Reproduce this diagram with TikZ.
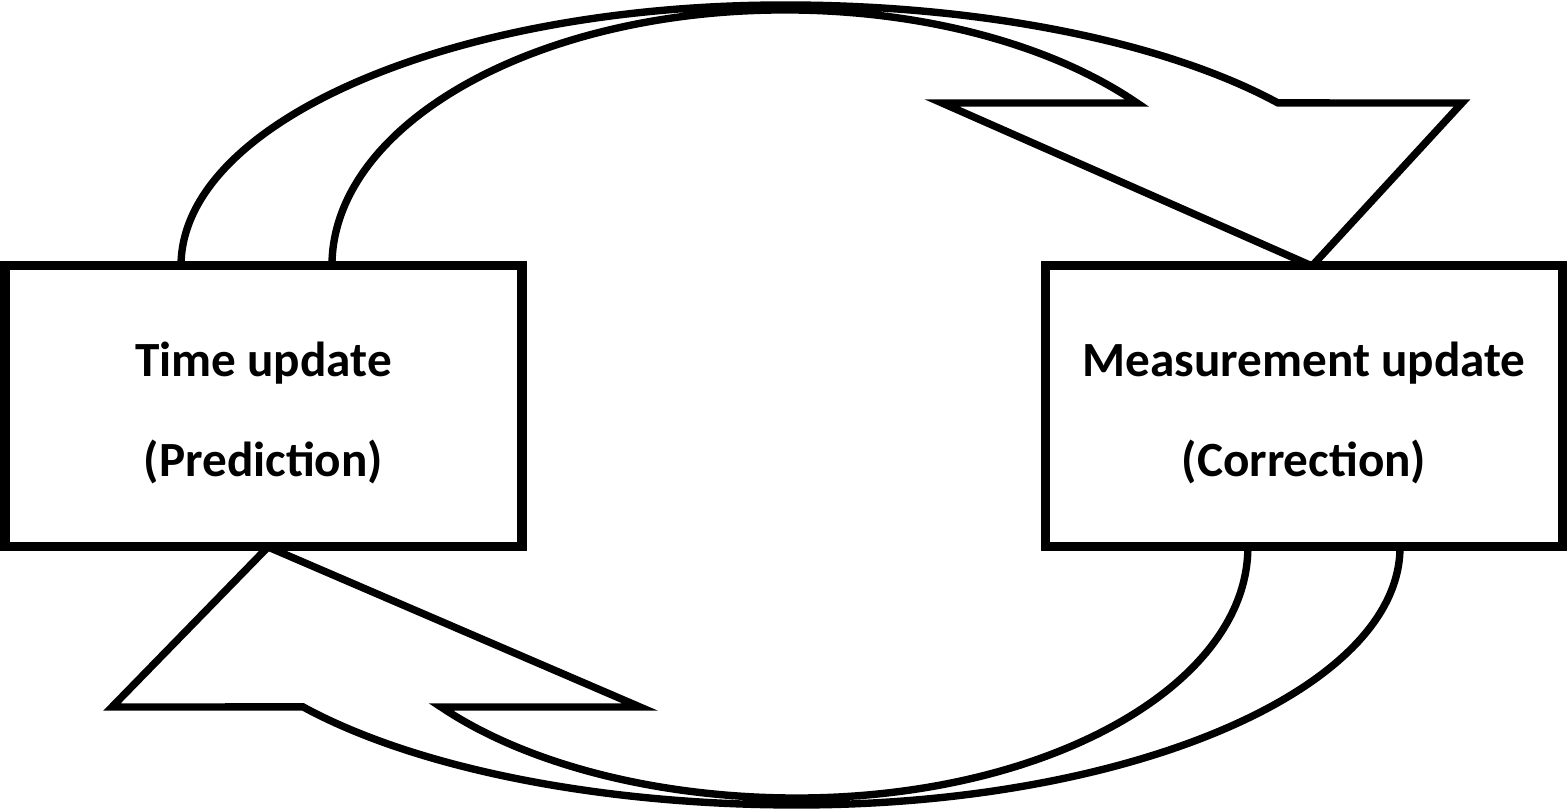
\documentclass[tikz,border=0pt]{standalone}
\usepackage{fontspec}
\setmainfont{Carlito}
\usepackage{tikz}

\begin{document}
\begin{tikzpicture}[
    every node/.style={font=\bfseries\fontsize{14}{28.5}\selectfont},
    box/.style={draw, line width=2.8pt, fill=white, minimum width=5.17cm,
      minimum height=2.81cm, inner sep=0pt, outer sep=0pt},
    caption/.style={align=center, inner sep=0pt},
    flow/.style={draw, line width=2.1pt, line join=miter}]
  \useasboundingbox (0,0) rectangle (15.67,8.12);

  % Feet and tips of the two loop arrows
  \coordinate (topOut) at (1.81,5.46);
  \coordinate (topIn) at (3.32,5.46);
  \coordinate (topTip) at (13.12,5.46);
  \coordinate (botOut) at (14.00,2.65);
  \coordinate (botIn) at (12.48,2.65);
  \coordinate (botTip) at (2.68,2.65);

  % Upper arrow: time update -> measurement update
  \draw[flow] (topOut)
    arc[start angle=180, end angle=90, x radius=6.04cm, y radius=2.61cm]
    arc[start angle=90, end angle=35.3, x radius=6.04cm, y radius=2.32cm]
    -- (14.62,7.09) -- (topTip) -- (9.42,7.09) -- (11.37,7.09)
    arc[start angle=39.0, end angle=90, x radius=4.53cm, y radius=2.51cm]
    arc[start angle=90, end angle=180, x radius=4.53cm, y radius=2.56cm]
    -- (topIn);

  % Lower arrow: measurement update -> time update
  \draw[flow] (botOut)
    arc[start angle=0, end angle=-90, x radius=6.03cm, y radius=2.58cm]
    arc[start angle=-90, end angle=-145, x radius=6.03cm, y radius=2.30cm]
    -- (1.12,1.05) -- (botTip) -- (6.40,1.05) -- (4.41,1.05)
    arc[start angle=-142.1, end angle=-90, x radius=4.51cm, y radius=2.36cm]
    arc[start angle=-90, end angle=0, x radius=4.51cm, y radius=2.51cm]
    -- (botIn);

  % Boxes
  \node[box] (time) at (2.635,4.06) {};
  \node[box] (meas) at (13.04,4.06) {};
  \node[caption] (timeText) at ([yshift=-0.07cm]time.center) {Time update\\(Prediction)};
  \node[caption] (measText) at ([yshift=-0.07cm]meas.center) {Measurement update\\(Correction)};
\end{tikzpicture}
\end{document}
